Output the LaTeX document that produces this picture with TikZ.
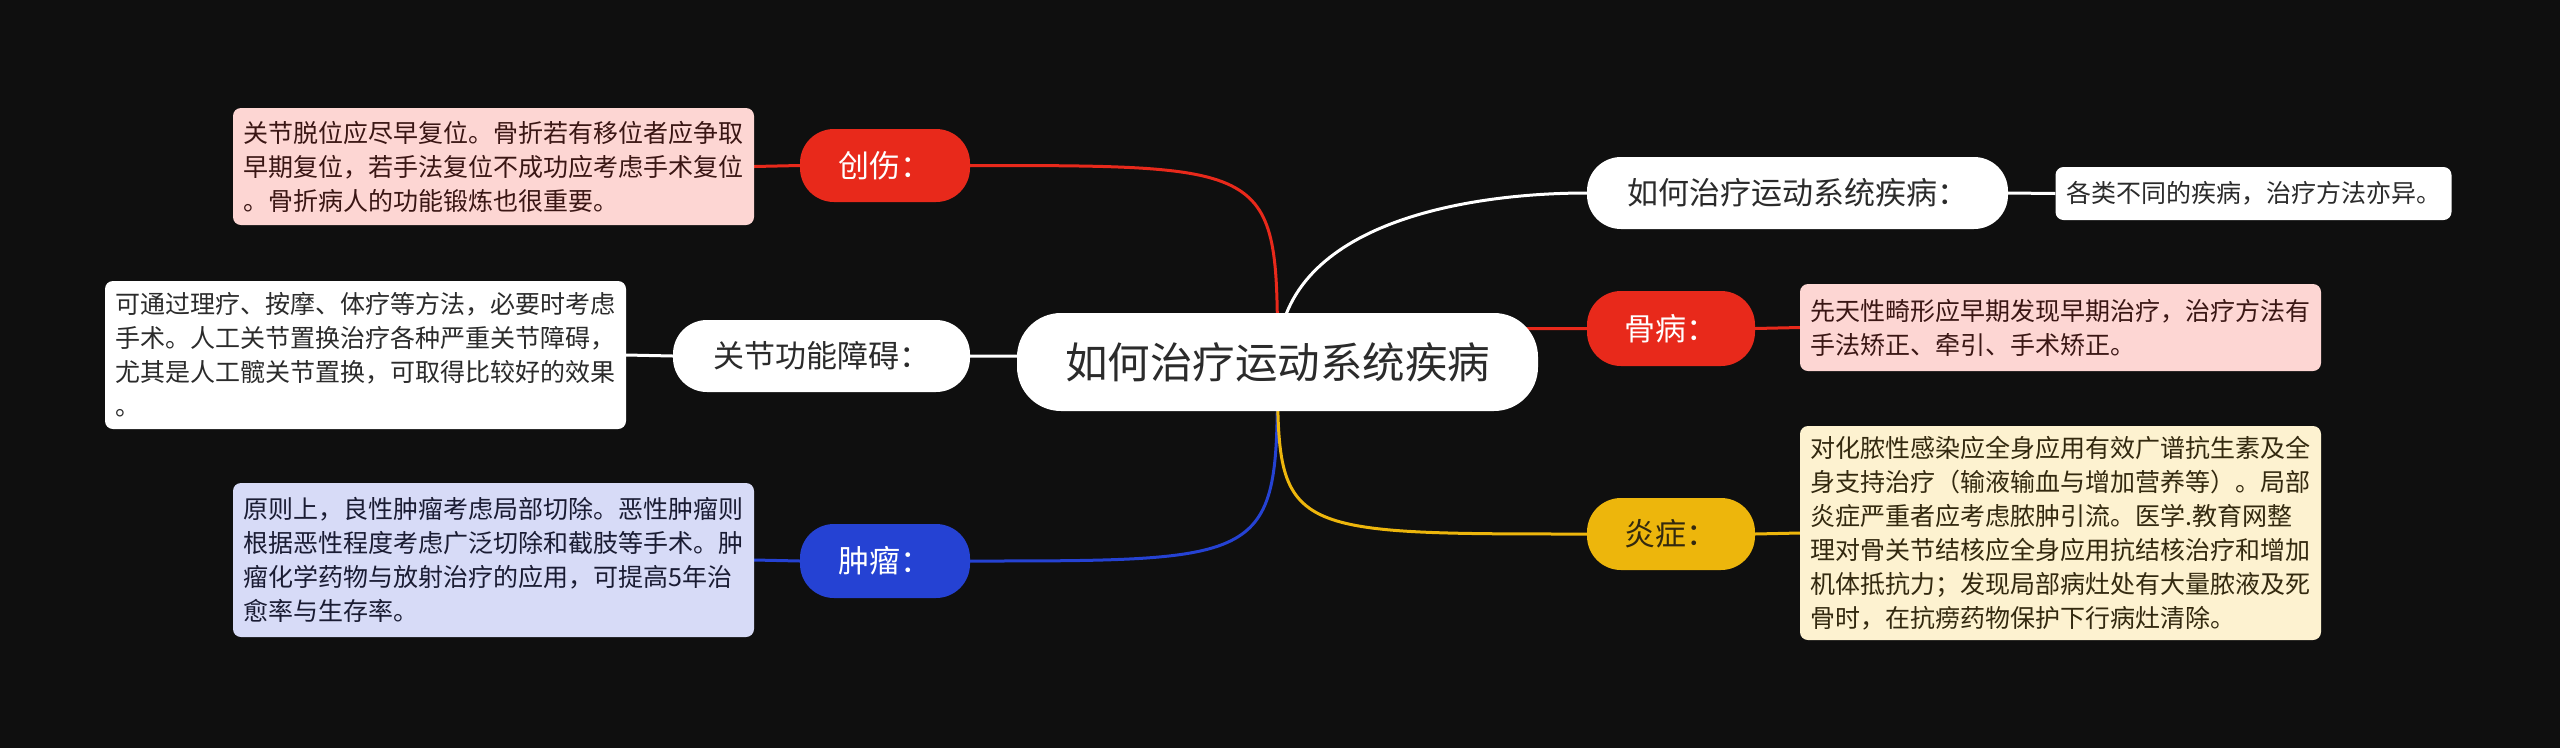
\documentclass[tikz,border=0pt]{standalone}
\usepackage{fontspec}
\setmainfont{Noto Sans CJK SC}
\definecolor{bgc}{HTML}{0F0F0F}
\definecolor{mred}{HTML}{E8291B}
\definecolor{mblue}{HTML}{2542D3}
\definecolor{myellow}{HTML}{EDB60C}
\definecolor{mpink}{HTML}{FDD6D3}
\definecolor{mlav}{HTML}{D7DBF7}
\definecolor{mcream}{HTML}{FDF2D0}
\definecolor{darktxt}{HTML}{2B2B2B}
\definecolor{pinktxt}{HTML}{3A1614}
\definecolor{lavtxt}{HTML}{1A1C33}
\definecolor{creamtxt}{HTML}{33290F}
\pgfdeclarelayer{back}
\pgfdeclarelayer{edges}
\pgfsetlayers{back,edges,main}
\tikzset{
  txtbox/.style={rectangle, rounded corners=8pt, inner xsep=10.5pt, inner ysep=0pt,
    align=left, text width=500pt, font=\fontsize{25}{34}\selectfont},
  pill/.style={rectangle, rounded corners=34pt, minimum height=73pt, inner sep=0pt,
    font=\fontsize{31}{36}\selectfont},
  link/.style={line width=3pt},
}
\begin{document}
\begin{tikzpicture}[x=1pt,y=-1pt]
\begin{pgfonlayer}{back}
\fill[bgc] (0,0) rectangle (2560,748);
\end{pgfonlayer}
\useasboundingbox (0,0) rectangle (2560,748);

% central
\node[rectangle, rounded corners=44pt, fill=white, text=darktxt, minimum width=521pt, minimum height=98pt,
  font=\fontsize{42.5}{50}\selectfont] (c) at (1277.5,362) {如何治疗运动系统疾病};

% left pills
\node[pill, fill=mred, text=white, minimum width=170pt] (t1) at (885,165.5) {创伤：};
\node[pill, fill=white, text=darktxt, minimum width=297pt, minimum height=72pt] (t2) at (821.5,356) {关节功能障碍：};
\node[pill, fill=mblue, text=white, minimum width=170pt, minimum height=74pt] (t3) at (885,561) {肿瘤：};

% right pills
\node[pill, fill=white, text=darktxt, minimum width=421pt, minimum height=72pt] (r1) at (1797.5,193) {如何治疗运动系统疾病：};
\node[pill, fill=mred, text=white, minimum width=168pt, minimum height=75pt] (r2) at (1671,328.5) {骨病：};
\node[pill, fill=myellow, text=creamtxt, minimum width=168pt, minimum height=72pt] (r3) at (1671,534) {炎症：};

% left text boxes
\node[txtbox, fill=mpink, text=pinktxt, minimum height=117pt] (b1) at (493.5,166.5)
  {关节脱位应尽早复位。骨折若有移位者应争取\\早期复位，若手法复位不成功应考虑手术复位\\。骨折病人的功能锻炼也很重要。};
\node[txtbox, fill=white, text=darktxt, minimum height=148pt] (b2) at (365.5,355)
  {可通过理疗、按摩、体疗等方法，必要时考虑\\手术。人工关节置换治疗各种严重关节障碍，\\尤其是人工髋关节置换，可取得比较好的效果\\。};
\node[txtbox, fill=mlav, text=lavtxt, minimum height=154pt] (b3) at (493.5,560)
  {原则上，良性肿瘤考虑局部切除。恶性肿瘤则\\根据恶性程度考虑广泛切除和截肢等手术。肿\\瘤化学药物与放射治疗的应用，可提高5年治\\愈率与生存率。};

% right text boxes
\node[txtbox, fill=white, text=darktxt, text width=375pt, minimum height=53pt] (s1) at (2253.5,193.5)
  {各类不同的疾病，治疗方法亦异。};
\node[txtbox, fill=mpink, text=pinktxt, minimum height=87pt] (s2) at (2060.5,327.5)
  {先天性畸形应早期发现早期治疗，治疗方法有\\手法矫正、牵引、手术矫正。};
\node[txtbox, fill=mcream, text=creamtxt, minimum height=214pt] (s3) at (2060.5,533)
  {对化脓性感染应全身应用有效广谱抗生素及全\\身支持治疗（输液输血与增加营养等）。局部\\炎症严重者应考虑脓肿引流。医学.教育网整\\理对骨关节结核应全身应用抗结核治疗和增加\\机体抵抗力；发现局部病灶处有大量脓液及死\\骨时，在抗痨药物保护下行病灶清除。};

\begin{pgfonlayer}{edges}
\draw[link, mred] (c.center) .. controls (c.center |- t1.east) .. (t1.east);
\draw[link, white] (c.center) .. controls (c.center |- t2.east) .. (t2.east);
\draw[link, mblue] (c.center) .. controls (c.center |- t3.east) .. (t3.east);
\draw[link, white] (c.center) .. controls ([yshift=-30pt]c.center |- r1.west) and ([xshift=-120pt]r1.west) .. (r1.west);
\draw[link, mred] (c.center) .. controls (c.center |- r2.west) .. (r2.west);
\draw[link, myellow] (c.center) .. controls (c.center |- r3.west) .. (r3.west);
\draw[link, mred] (t1.west) -- (b1.east);
\draw[link, white] (t2.west) -- (b2.east);
\draw[link, mblue] (t3.west) -- (b3.east);
\draw[link, white] (r1.east) -- (s1.west);
\draw[link, mred] (r2.east) -- (s2.west);
\draw[link, myellow] (r3.east) -- (s3.west);
\end{pgfonlayer}
\end{tikzpicture}
\end{document}
